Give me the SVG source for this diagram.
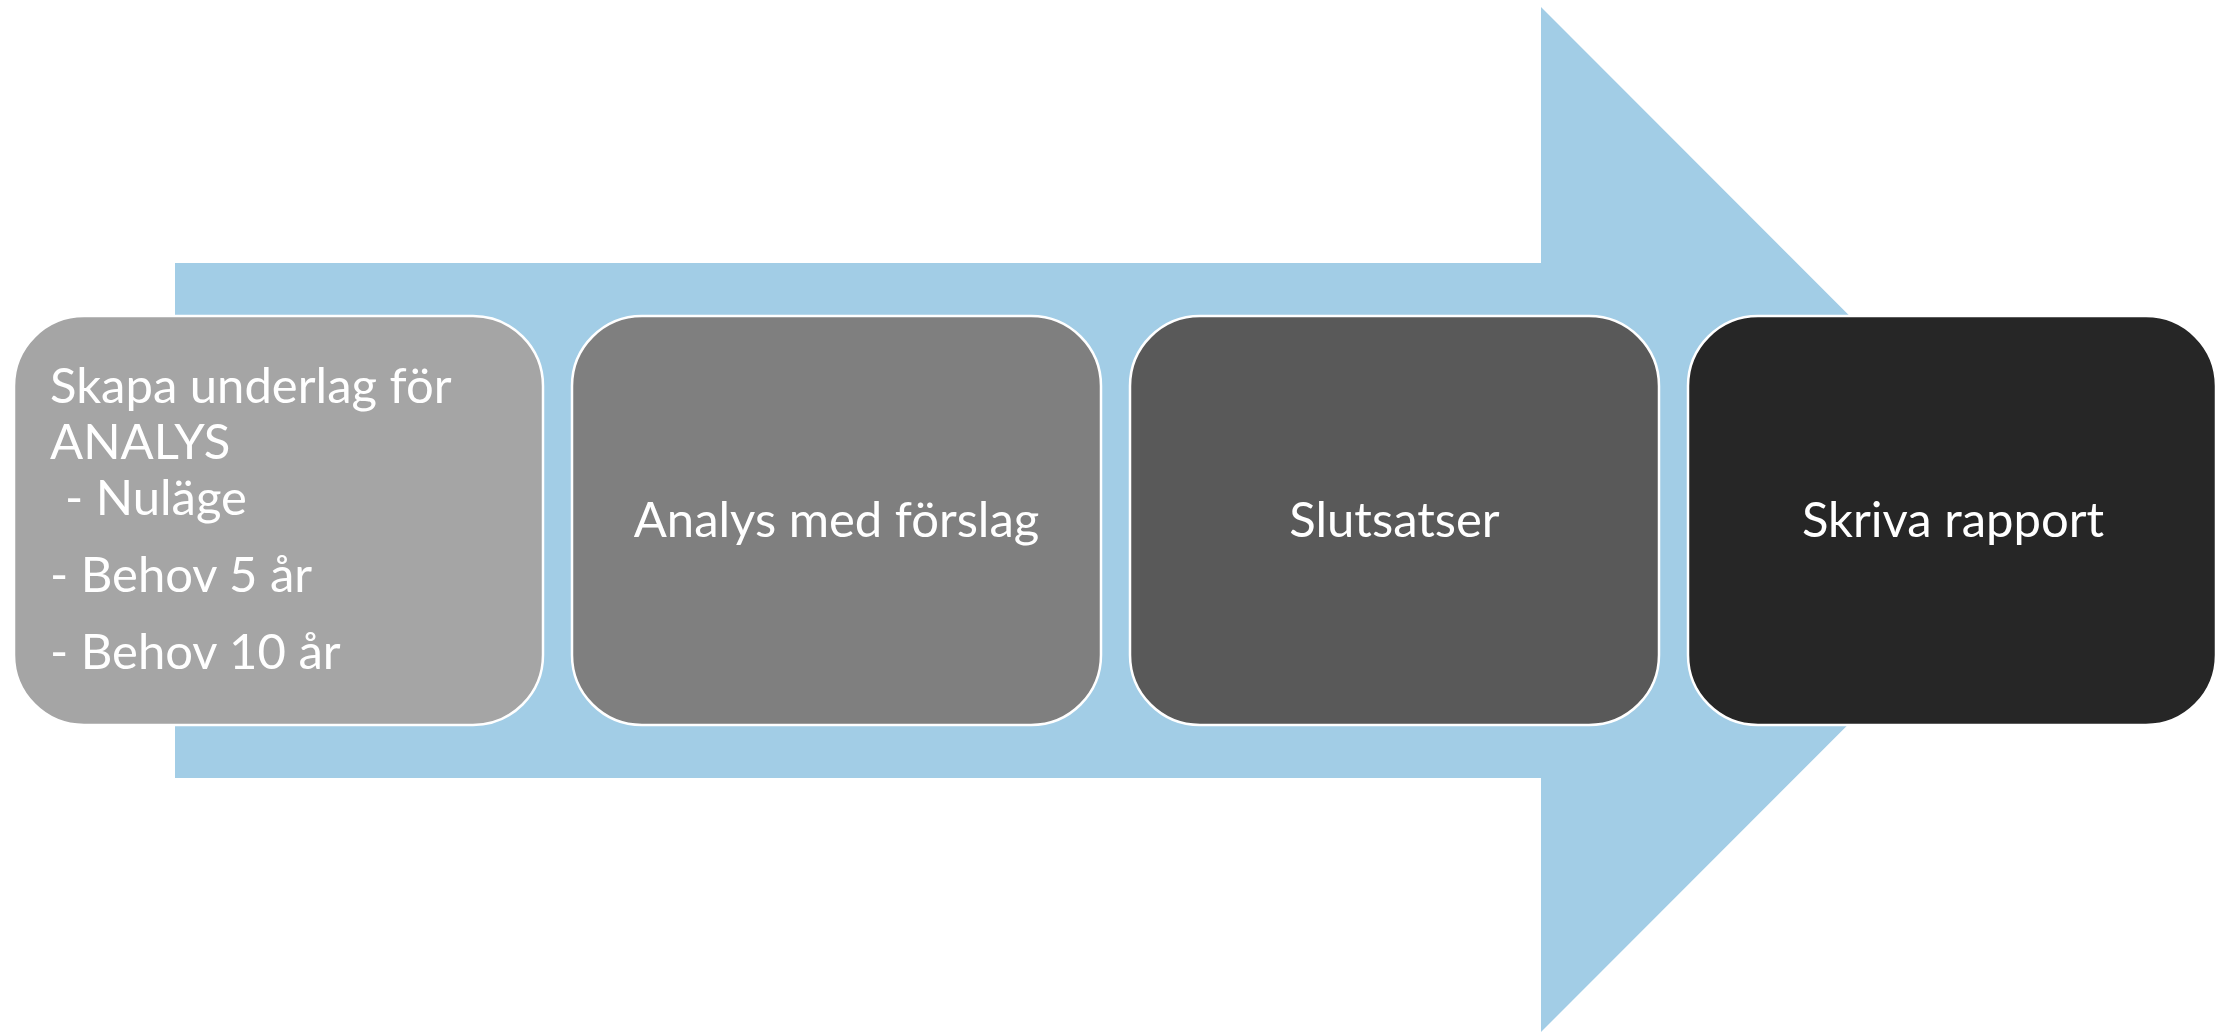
<svg xmlns="http://www.w3.org/2000/svg" width="2217" height="1032" viewBox="0 0 2217 1032">
<style>
.box{stroke:#ffffff;stroke-width:2.5}
.t{font-family:Lato,"Liberation Sans",sans-serif;font-size:49px;fill:#ffffff}
.c{text-anchor:middle}
</style>
<rect width="2217" height="1032" fill="#ffffff"/>
<g id="connectors">
<polygon id="arrow" points="175,263 1541,263 1541,7 2053,519.5 1541,1032 1541,778 175,778" fill="#a2cde6"/>
</g>
<g id="node1">
<rect class="box" x="14" y="316" width="529" height="409" rx="70" ry="70" fill="#a5a5a5"/>
<text class="t" x="50" y="403">Skapa underlag för</text>
<text class="t" x="50" y="459">ANALYS</text>
<text class="t" x="65" y="515">- Nuläge</text>
<text class="t" x="50" y="592">- Behov 5 år</text>
<text class="t" x="50" y="669">- Behov 10 år</text>
</g>
<g id="node2">
<rect class="box" x="572" y="316" width="529" height="409" rx="70" ry="70" fill="#7f7f7f"/>
<text class="t c" x="836.5" y="537">Analys med förslag</text>
</g>
<g id="node3">
<rect class="box" x="1130" y="316" width="529" height="409" rx="70" ry="70" fill="#595959"/>
<text class="t c" x="1394.5" y="537">Slutsatser</text>
</g>
<g id="node4">
<rect class="box" x="1688" y="316" width="528" height="409" rx="70" ry="70" fill="#262626"/>
<text class="t c" x="1953" y="537">Skriva rapport</text>
</g>
</svg>
